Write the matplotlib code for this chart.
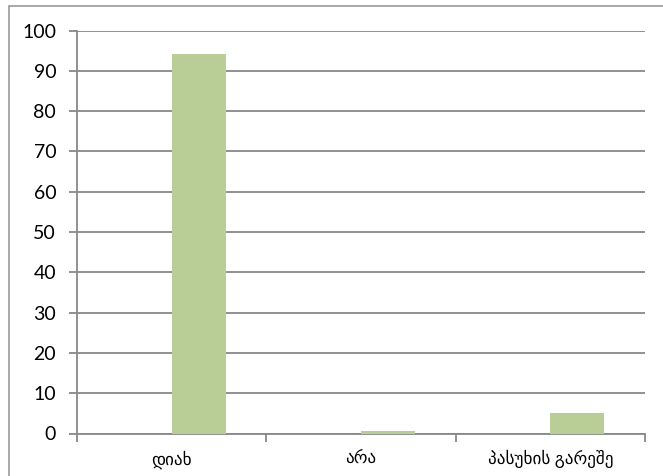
import matplotlib.pyplot as plt
from matplotlib.patches import Rectangle

categories = ['დიახ', 'არა', 'პასუხის გარეშე']
values = [94.2, 0.5, 5.0]
y_ticks = list(range(0, 101, 10))

bar_color = '#B9CD96'
line_color = '#888888'
fonts = ['Lato', 'DejaVu Sans']

fig = plt.figure(figsize=(6.63, 4.76), dpi=100)
ax = fig.add_axes([77 / 663, 1 - 433.5 / 476, (645 - 77) / 663, (433.5 - 30.5) / 476])

# excel style: two series slots per category, only the second one has data
bar_w = 1 / 3.5
xs = list(range(len(categories)))
ax.bar(xs, values, width=bar_w, align='edge', color=bar_color, zorder=3)

ax.set_xlim(-0.5, len(categories) - 0.5)
ax.set_ylim(0, 100)
ax.set_yticks(y_ticks)
ax.set_yticklabels([str(v) for v in y_ticks], family=fonts, fontsize=14, color='black')
ax.yaxis.grid(True, color=line_color, linewidth=1.3, zorder=0)
ax.set_axisbelow(True)

ax.set_xticks([i - 0.5 for i in range(len(categories) + 1)])
ax.set_xticklabels([])
ax.set_xticks(xs, minor=True)
ax.set_xticklabels(categories, minor=True, family=fonts, fontsize=12.3)
ax.tick_params(axis='x', which='major', length=6, width=1.3, color=line_color)
ax.tick_params(axis='x', which='minor', length=0, pad=12)
ax.tick_params(axis='y', length=6, width=1.3, color=line_color, pad=9)

for side in ['top', 'right']:
    ax.spines[side].set_visible(False)
for side in ['left', 'bottom']:
    ax.spines[side].set_color(line_color)
    ax.spines[side].set_linewidth(1.3)

# outer chart border, cut off at the right and bottom
fig.add_artist(Rectangle((9 / 663, -0.1), 1.2, 1.1 - 6 / 476, transform=fig.transFigure,
                         fill=False, edgecolor='#999999', linewidth=1.2))

fig.savefig('out.png', dpi=100)
